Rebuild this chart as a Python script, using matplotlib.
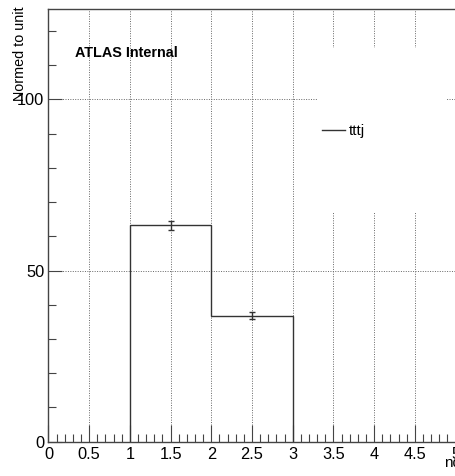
import matplotlib
matplotlib.use("Agg")
import matplotlib.pyplot as plt
import numpy as np
from matplotlib.ticker import MultipleLocator
from matplotlib.patches import Rectangle

# Data
bin_edges = [1.0, 2.0, 3.0]
bin_values = [63.2, 36.8]
bin_errors = [1.4, 1.0]
legend_label = "tttj"
x_label = "nq"
y_label = "Normed to unit"

plt.rcParams['font.family'] = ['Liberation Sans', 'DejaVu Sans']

W, H = 456, 476
fig = plt.figure(figsize=(W / 100, H / 100), dpi=100)
L, R, B, T = 48.5, 455.5, 441.7, 9.0
ax = fig.add_axes([L / W, 1 - B / H, (R - L) / W, (B - T) / H])

ax.set_xlim(0, 5)
ax.set_ylim(0, 126.4)

ax.xaxis.set_major_locator(MultipleLocator(0.5))
ax.xaxis.set_minor_locator(MultipleLocator(0.1))
ax.yaxis.set_major_locator(MultipleLocator(50))
ax.yaxis.set_minor_locator(MultipleLocator(10))
ax.grid(True, which='major', linestyle=(0, (1, 1.5)), color='#666666',
        linewidth=0.7, zorder=0)
ax.set_axisbelow(True)

# white legend box area hiding grid
def px2ax(px, py):
    return (px - L) / (R - L), (B - py) / (B - T)
x0, y1 = px2ax(318, 48)
x1, y0 = px2ax(446, 213)
ax.add_patch(Rectangle((x0, y0), x1 - x0, y1 - y0, transform=ax.transAxes,
                       facecolor='white', edgecolor='none', zorder=1))

# histogram
edges = np.array(bin_edges)
vals = np.array(bin_values)
ax.stairs(vals, edges, color='#333333', linewidth=1.0, zorder=3, label=legend_label)
centers = 0.5 * (edges[:-1] + edges[1:])
ax.errorbar(centers, vals, yerr=bin_errors, fmt='none', ecolor='#333333',
            elinewidth=1.0, capsize=2, capthick=1.0, zorder=3)

# ticks ROOT style
ax.tick_params(which='both', direction='in', top=False, right=False,
               labelsize=11.8, colors='#444444', labelcolor='black')
ax.tick_params(axis='x', which='major', length=12, width=0.8)
ax.tick_params(axis='x', which='minor', length=6, width=0.8)
ax.tick_params(axis='y', which='major', length=10, width=0.8)
ax.tick_params(axis='y', which='minor', length=6, width=0.8)
ax.tick_params(axis='x', pad=4)
ax.tick_params(axis='y', pad=3)

def fmt(v, pos):
    return '%g' % v
ax.xaxis.set_major_formatter(plt.FuncFormatter(fmt))
ax.yaxis.set_major_formatter(plt.FuncFormatter(fmt))

for s in ax.spines.values():
    s.set_color('#444444')
    s.set_linewidth(1.0)

fig.text(12.5 / W, 1 - 6 / H, y_label, rotation=90, ha='left', va='top', fontsize=10.4)
fig.text(444 / W, 1 - 467 / H, x_label, ha='left', va='baseline', fontsize=11)

ax.text(*px2ax(75, 53), "ATLAS Internal", transform=ax.transAxes, fontsize=10.4,
        fontweight='bold', va='center', ha='left')

lx, ly = px2ax(322, 131)
leg = ax.legend(loc='center left', bbox_to_anchor=(lx, ly), frameon=False,
                fontsize=10.8, handlelength=1.5, handletextpad=0.3,
                borderpad=0, borderaxespad=0)
leg.set_zorder(5)

fig.savefig("out.png", dpi=100)
